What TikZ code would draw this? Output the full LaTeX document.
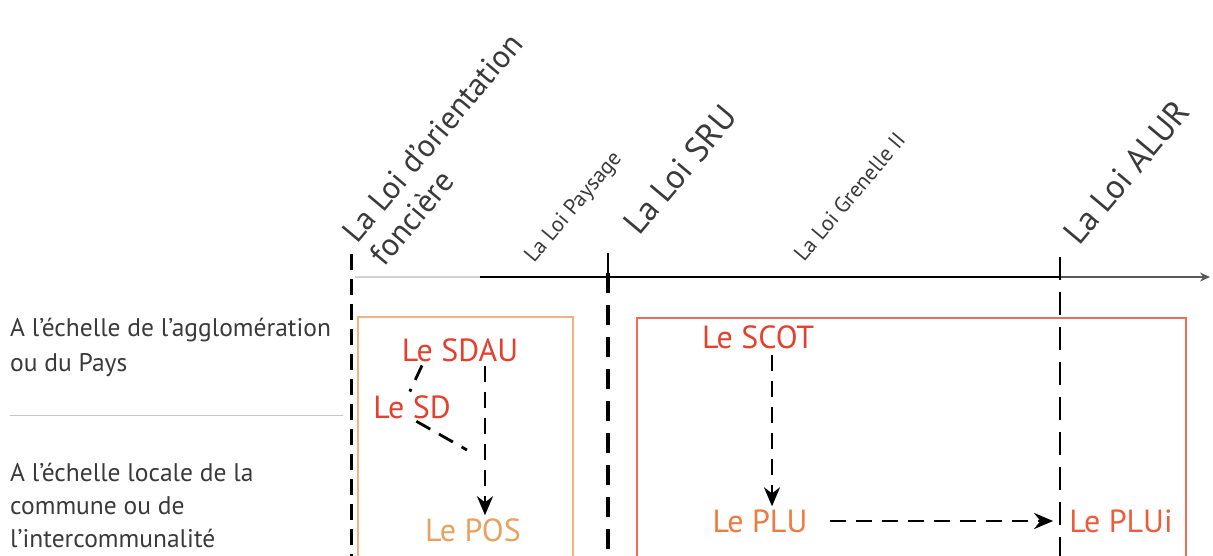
\documentclass[tikz,border=0pt]{standalone}
\usepackage{fontspec}
\setmainfont{PT Sans}
\usetikzlibrary{arrows.meta, positioning}

\definecolor{grisTexte}{HTML}{3A3A3A}
\definecolor{rougeDoc}{HTML}{E5402E}
\definecolor{orangePOS}{HTML}{E9A25E}
\definecolor{orangePLU}{HTML}{EF7A3E}
\definecolor{rougePLUi}{HTML}{EC5C3C}
\definecolor{cadreOrange}{HTML}{F4B27E}
\definecolor{cadreRouge}{HTML}{EE6E55}

\begin{document}
\begin{tikzpicture}[x=1pt, y=-1pt,
    doc/.style={font=\fontsize{32}{36}\selectfont, inner sep=0pt},
    echelle/.style={font=\fontsize{25.5}{35}\selectfont, text=grisTexte, align=left, inner sep=0pt, anchor=north west},
    loi/.style={text=grisTexte, rotate=50, inner sep=0pt, anchor=base west},
    lien/.style={line width=2.8pt, dash pattern=on 16pt off 10pt, -{Stealth[length=19pt, width=16pt]}},
    trait/.style={line width=2.8pt, dash pattern=on 16pt off 10pt},
    repere/.style={line width=3pt, dash pattern=on 16pt off 9pt}]
\useasboundingbox (0,0) rectangle (1213,555);

% Axe du temps
\coordinate (t0) at (355,277);
\coordinate (t1) at (480,277);
\coordinate (t2) at (1060,277);
\coordinate (t3) at (1210,277);
\draw[gray!35, line width=1.5pt] (t0) -- (t1);
\draw[line width=2.5pt] (t1) -- (t2);
\draw[gray!70!black, line width=1.5pt, -{Stealth[length=10pt, width=9pt]}] (t2) -- (t3);

% Lois (grandes et petites)
\node[loi, font=\fontsize{32}{36}\selectfont, align=left, anchor=south west] (lof) at (385,268)
    {La Loi d'orientation\\fonci\`ere};
\foreach \x/\y/\sz/\txt/\nm in {534/264/22/La Loi Paysage/pay, 639/237/34/La Loi SRU/sru,
        804/263/22/La Loi Grenelle II/gre, 1079/247/34/La Loi ALUR/alur}{
    \node[loi, font=\fontsize{\sz}{\sz}\selectfont] (\nm) at (\x,\y) {\txt};
}

% Reperes verticaux
\coordinate (r1h) at (351,254);  \coordinate (r1b) at (351,560);
\coordinate (r2h) at (608,253);  \coordinate (r2b) at (608,560);
\coordinate (r3h) at (1060,257); \coordinate (r3b) at (1060,560);
\draw[repere] (r1h) -- (r1b);
\draw[line width=2.5pt] (r2h) -- (t2 -| r2h);
\draw[repere, line width=3.5pt, dash pattern=on 20pt off 12pt] ([yshift=-20pt]r2h) -- (r2b);
\draw[line width=2.2pt, dash pattern=on 23pt off 12pt] (r3h) -- (r3b);

% Echelles
\node[echelle] (agglo) at (10,318) {A l'\'echelle de l’agglom\'eration\\ou du Pays};
\node[echelle, font=\fontsize{25.5}{33}\selectfont] (locale) at (10,463)
    {A l'\'echelle locale de la\\commune ou de\\l’intercommunalit\'e};
\draw[gray!45, line width=1pt] (10,415) -- (343,415);

% Cadres
\draw[cadreOrange, line width=1.3pt] (358,317) rectangle (573,560);
\draw[cadreRouge, line width=1.3pt] (637,318) rectangle (1186,560);

% Documents
\node[doc, text=rougeDoc] (sdau) at (460,350) {Le SDAU};
\node[doc, text=rougeDoc] (sd) at (412,407) {Le SD};
\node[doc, text=orangePOS] (pos) at (473,530) {Le POS};
\node[doc, text=rougeDoc] (scot) at (758,337) {Le SCOT};
\node[doc, text=orangePLU] (plu) at (760,521) {Le PLU};
\node[doc, text=rougePLUi] (plui) at (1121,521) {Le PLUi};

% Liens
\coordinate (jonction) at (467,450);
\draw[lien, shorten <=4pt, shorten >=3pt] ([xshift=25pt]sdau.south) -- ([xshift=12pt]pos.north);
\draw[trait, shorten <=4pt, shorten >=4pt] ([xshift=22pt]sdau.south west) -- ([xshift=35pt]sd.north west);
\draw[trait, shorten <=5pt] (sd.south) -- (jonction);
\draw[lien, shorten <=6pt, shorten >=3pt] ([xshift=14pt]scot.south) -- ([xshift=12pt]plu.north);
\draw[lien, shorten <=22pt, shorten >=16pt] (plu.east) -- (plui.west);

\end{tikzpicture}
\end{document}
